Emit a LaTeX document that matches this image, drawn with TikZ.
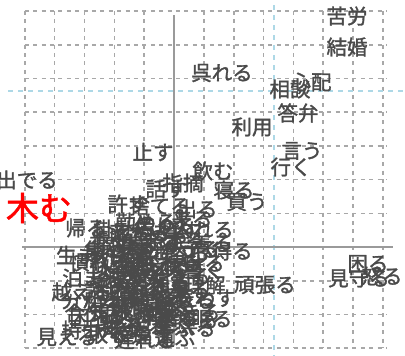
\documentclass[tikz,border=0pt]{standalone}
\usepackage{fontspec}
\newfontfamily\jp{Noto Sans CJK JP}[FakeBold=1.5]
\definecolor{txtgray}{HTML}{4A4A4A}
\definecolor{gridgray}{HTML}{A8A8A8}
\definecolor{axisgray}{HTML}{9A9A9A}
\definecolor{refblue}{HTML}{ADD8E6}
\tikzset{
  lbl/.style={inner sep=0pt, text=txtgray, font=\jp\fontsize{20.5bp}{22bp}\selectfont},
  redlbl/.style={inner sep=0pt, text=red, font=\jp\fontsize{33bp}{36bp}\selectfont},
  gridline/.style={draw=gridgray, line width=1.6bp, dash pattern=on 4bp off 4.4bp},
  refline/.style={draw=refblue, line width=1.5bp, dash pattern=on 5bp off 5bp},
  axisline/.style={draw=axisgray, line width=1.8bp}
}
\begin{document}
\begin{tikzpicture}[x=1bp, y=-1bp]
\useasboundingbox (0,0) rectangle (405,356);
\fill[white] (0,0) rectangle (405,356);
% grid
\foreach \gx in {24.75,54.6,84.45,114.3,144.15,203.85,233.7,263.55,293.4,323.25,353.1,382.95}
  \draw[gridline] (\gx,11) -- (\gx,348);
\foreach \gy in {11.1,44.8,78.5,112.2,145.9,179.6,213.3,280.7,314.4,348.1}
  \draw[gridline] (24.75,\gy) -- (386,\gy);
% reference lines
\draw[refline] (8,91) -- (405,91);
\draw[refline] (274,5) -- (274,356);
% axes
\coordinate (axT) at (174,15);
\coordinate (axB) at (174,345);
\coordinate (axL) at (22,247);
\coordinate (axR) at (393,247);
\draw[axisline] (axT) -- (axB);
\draw[axisline] (axL) -- (axR);
% outer labels
\foreach \t/\x/\y [count=\i] in {
  苦労/347/16, 結婚/347/47, 呉れる/222/73, 心配/311/82, 相談/290/89,
  答弁/298/113, 利用/252/127, 言う/302/151, 行く/291/167, 止す/153/152,
  飲む/213/171, 出でる/27/180, 寝る/234/190, 買う/247/202,
  頑張る/265/285, 困る/368/264, 見守る/359/278, 怒る/382/276}
  \node[lbl] (o\i) at (\x,\y) {\t};
% dense cluster
\foreach \t/\x/\y [count=\i] in {
  話す/166/189, 指摘/183/183, 許す/128/204, 捨てる/160/206, 出る/197/209,
  帰る/86/228, 掛ける/124/229, 勤める/146/222, 進める/158/235, 来る/192/219,
  入れる/203/230, 心得る/222/251, 着る/212/243,
  生まれる/97/255, 開ける/126/246, 集まる/150/244, 勝つ/175/251, 守る/199/249,
  教える/120/259, 働く/145/261, 変わる/170/263, 続ける/194/263,
  泊まる/93/278, 始める/130/271, 考える/155/273, 始まる/180/276, 書く/204/270,
  越える/82/292, 決める/120/286, 作る/145/287, 使う/170/290, 理解/205/285,
  分かる/92/300, 残る/120/299, 読む/140/301, 聞く/165/303, 表わす/205/298,
  合う/85/313, 知る/110/312, 話し合う/140/313, 頼む/165/316, 起きる/190/312,
  持つ/82/330, 引く/102/329, 会う/125/326, 送る/148/327, 選ぶ/172/325,
  座る/198/320, 眠る/212/319, 取る/108/335, 待つ/132/333, 違う/152/335,
  学ぶる/185/328, 見える/67/337, 思う/135/280, 答える/160/282,
  似る/110/268, 住む/140/250, 走る/185/240, 呼ぶ/130/238, 歩く/110/240,
  食べる/150/296, 並ぶ/120/320, 育てる/160/308, 話せる/115/290,
  落ちる/140/233, 借りる/165/226, 貸す/180/230, 返す/155/255, 渡る/135/265,
  消える/160/266, 笑う/185/268, 泣く/125/278, 付く/150/278, 通る/170/284,
  乗る/190/290, 立つ/110/283, 置く/135/292, 比べる/160/296, 降りる/185/300,
  焼く/105/305, 洗う/130/306, 押す/155/318, 話る/178/318, 死ぬ/120/330,
  遅れる/145/340, 困らす/100/318, 運ぶ/175/338, 探す/130/255, 慣れる/100/262,
  答う/190/255, 示す/165/242, 集める/115/250, 疲れる/145/310, 届く/175/306}
  \node[lbl] (c\i) at (\x,\y) {\t};
\node[redlbl] (red) at (39,208) {木む};
\end{tikzpicture}
\end{document}
